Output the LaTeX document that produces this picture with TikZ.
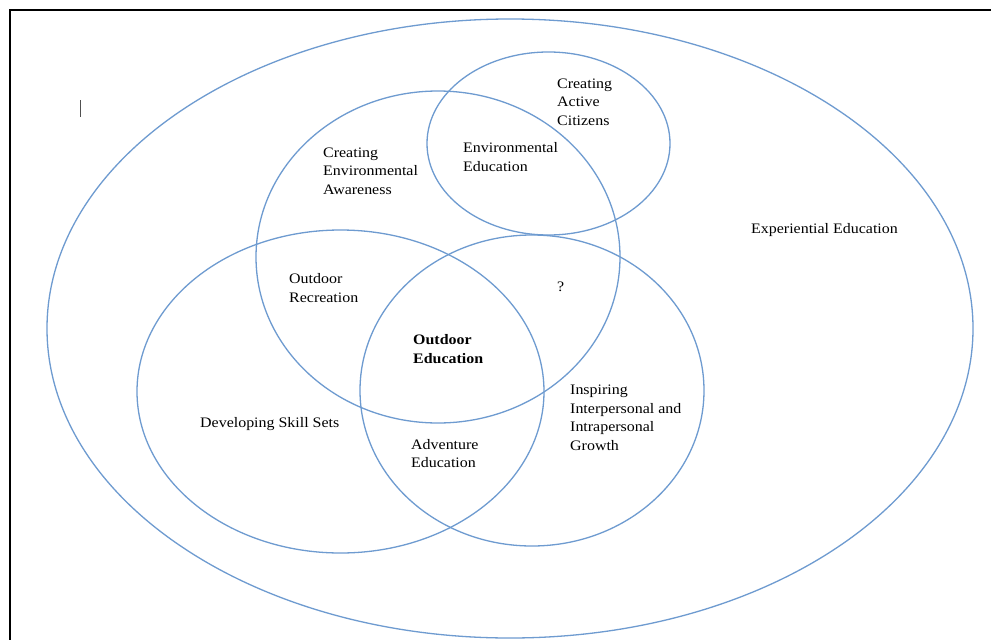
\documentclass[tikz,border=0pt]{standalone}
\usepackage{fontspec}
\setmainfont[FakeStretch=1.1]{Liberation Serif}
\definecolor{venn}{RGB}{110,155,208}
\definecolor{cursorgray}{RGB}{80,80,80}
\begin{document}
\begin{tikzpicture}[x=1pt,y=-1pt,
  ring/.style={draw=venn,line width=1.3pt},
  lbl/.style={anchor=west,align=left,inner sep=0pt,font=\fontsize{14.5}{18.5}\selectfont},
  frame/.style={draw=black,line width=2pt}]
\useasboundingbox (0,0) rectangle (991,640);
\fill[white] (0,0) rectangle (991,640);
% frame
\coordinate (fbl) at (10,645);
\coordinate (ftl) at (10,10);
\coordinate (ftr) at (996,10);
\draw[frame] (fbl) -- (ftl) -- (ftr);
% cursor
\coordinate (c1) at (80,100);
\coordinate (c2) at (80,117);
\draw[cursorgray,line width=1pt] (c1) -- (c2);
% ellipses
\draw[ring] (510,328.5) ellipse [x radius=463, y radius=309.5];
\draw[ring] (438,257) ellipse [x radius=182, y radius=166];
\draw[ring] (548.5,143.5) ellipse [x radius=121.5, y radius=91.5];
\draw[ring] (340.5,391.5) ellipse [x radius=203.5, y radius=161.5];
\draw[ring] (532,390.5) ellipse [x radius=172, y radius=155.5];
% labels
\node[lbl] (cac) at (557,102) {Creating\\Active\\Citizens};
\node[lbl] (cea) at (323,171) {Creating\\Environmental\\Awareness};
\node[lbl] (ee) at (463,157) {Environmental\\Education};
\node[lbl] (exp) at (751,230) {Experiential Education};
\node[lbl] (orc) at (289,288) {Outdoor\\Recreation};
\node[lbl] (q) at (557,287) {?};
\node[lbl,font=\fontsize{14.5}{18.5}\selectfont\bfseries] (oe) at (413,349) {Outdoor\\Education};
\node[lbl] (iig) at (570,418) {Inspiring\\Interpersonal and\\Intrapersonal\\Growth};
\node[lbl] (dss) at (200,424) {Developing Skill Sets};
\node[lbl] (ae) at (411,453.5) {Adventure\\Education};
\end{tikzpicture}
\end{document}
